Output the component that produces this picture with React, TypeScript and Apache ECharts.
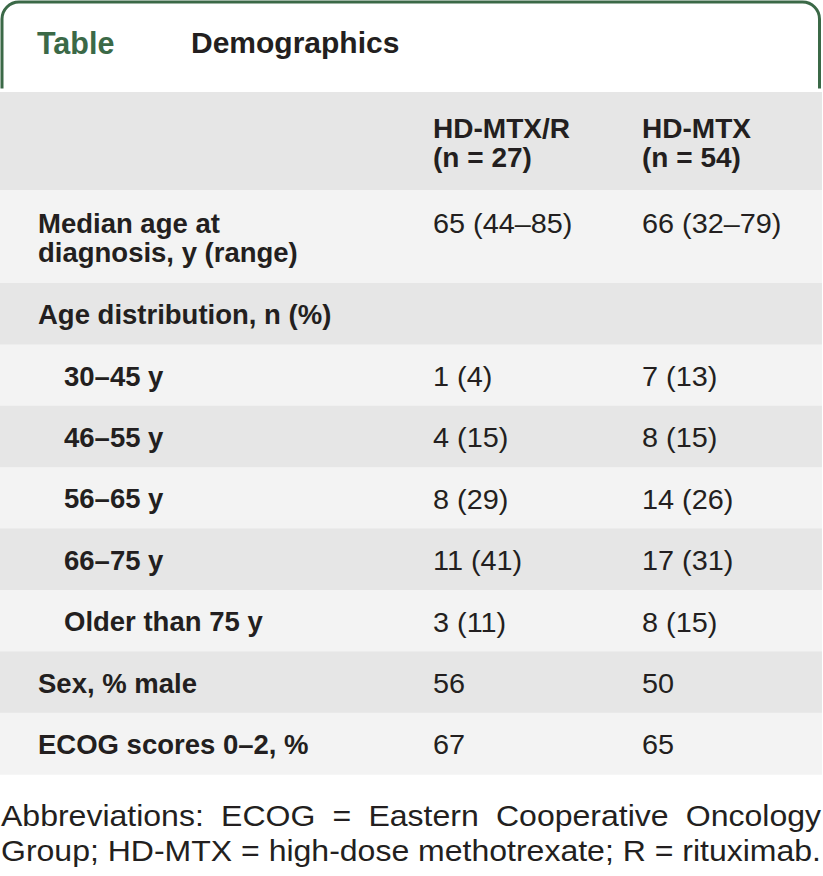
import React, { useEffect, useRef } from "react";
import * as echarts from "echarts";

const titleLabel = "Table";
const titleText = "Demographics";
const columnHeads = [
  ["HD-MTX/R", "(n = 27)"],
  ["HD-MTX", "(n = 54)"],
];
const rowLabels = [
  ["Median age at", "diagnosis, y (range)"],
  ["Age distribution, n (%)"],
  ["30–45 y"],
  ["46–55 y"],
  ["56–65 y"],
  ["66–75 y"],
  ["Older than 75 y"],
  ["Sex, % male"],
  ["ECOG scores 0–2, %"],
];
const rowIndent = [0, 0, 1, 1, 1, 1, 1, 0, 0];
const valuesHdmtxR = ["65 (44–85)", "", "1 (4)", "4 (15)", "8 (29)", "11 (41)", "3 (11)", "56", "67"];
const valuesHdmtx = ["66 (32–79)", "", "7 (13)", "8 (15)", "14 (26)", "17 (31)", "8 (15)", "50", "65"];
const footnoteLines = [
  "Abbreviations: ECOG = Eastern Cooperative Oncology",
  "Group; HD-MTX = high-dose methotrexate; R = rituximab.",
];

const GREEN = "#3b6947";
const TEXT = "#231f20";
const DARK_ROW = "#e6e6e6";
const LIGHT_ROW = "#f3f3f3";
const FONT = '"Liberation Sans", Arial, sans-serif';

function measure(text: string, font: string): number {
  const c = document.createElement("canvas");
  const ctx = c.getContext("2d")!;
  ctx.font = font;
  return ctx.measureText(text).width;
}

export default function App() {
  const ref = useRef<HTMLDivElement>(null);
  useEffect(() => {
    document.body.style.margin = "0";
    const chart = echarts.init(ref.current!, null, { renderer: "svg" });
    const els: any[] = [];
    const W = 822;
    const labelFont = `bold 27.5px ${FONT}`;
    const valueFont = `28px ${FONT}`;
    const valueScale = 1.03;

    // frame
    els.push({
      type: "rect", z: 1,
      shape: { x: 2, y: 2, width: 817.5, height: 120, r: [17, 17, 0, 0] },
      style: { fill: "#fff", stroke: GREEN, lineWidth: 3 },
    });
    els.push({ type: "rect", z: 2, shape: { x: -2, y: 88.5, width: 830, height: 40 }, style: { fill: "#fff" } });

    // title
    els.push({ type: "text", z: 5, x: 37, y: 42.5, style: { text: titleLabel, fill: GREEN, font: `bold 30.5px ${FONT}`, verticalAlign: "middle" } });
    els.push({ type: "text", z: 5, x: 191, y: 42.5, style: { text: titleText, fill: TEXT, font: `bold 30px ${FONT}`, verticalAlign: "middle" } });

    // header band
    const headTop = 92;
    const headBottom = 190;
    els.push({ type: "rect", z: 3, shape: { x: 0, y: headTop, width: W, height: headBottom - headTop }, style: { fill: DARK_ROW } });
    const colX = [433, 642];
    columnHeads.forEach((lines, ci) => {
      lines.forEach((t, li) => {
        els.push({ type: "text", z: 5, x: colX[ci], y: 128.3 + li * 29, scaleX: 1.02, style: { text: t, fill: TEXT, font: `bold 27.5px ${FONT}`, verticalAlign: "middle" } });
      });
    });

    // rows
    const rowTops: number[] = [];
    const rowHeights: number[] = [];
    let y = headBottom;
    rowLabels.forEach((lines) => {
      const h = lines.length > 1 ? 93 : 61.4;
      rowTops.push(y);
      rowHeights.push(h);
      y += h;
    });
    rowLabels.forEach((lines, ri) => {
      const top = rowTops[ri];
      const h = rowHeights[ri];
      els.push({ type: "rect", z: 3, shape: { x: 0, y: top, width: W, height: h + 0.5 }, style: { fill: ri % 2 === 0 ? LIGHT_ROW : DARK_ROW } });
      const labelX = rowIndent[ri] ? 64 : 38;
      if (lines.length > 1) {
        lines.forEach((t, li) => {
          els.push({ type: "text", z: 5, x: labelX, y: top + 33.3 + li * 29, style: { text: t, fill: TEXT, font: labelFont, verticalAlign: "middle" } });
        });
        [valuesHdmtxR[ri], valuesHdmtx[ri]].forEach((v, ci) => {
          els.push({ type: "text", z: 5, x: colX[ci], y: top + 33, scaleX: valueScale, style: { text: v, fill: TEXT, font: valueFont, verticalAlign: "middle" } });
        });
      } else {
        const mid = top + h / 2 + 1;
        els.push({ type: "text", z: 5, x: labelX, y: mid, style: { text: lines[0], fill: TEXT, font: labelFont, verticalAlign: "middle" } });
        [valuesHdmtxR[ri], valuesHdmtx[ri]].forEach((v, ci) => {
          if (v) els.push({ type: "text", z: 5, x: colX[ci], y: mid, scaleX: valueScale, style: { text: v, fill: TEXT, font: valueFont, verticalAlign: "middle" } });
        });
      }
    });

    // footnote, justified; glyphs widened so the last line fills the width with normal spaces
    const fnFont = `30px ${FONT}`;
    const fnMids = [816.3, 851.3];
    const left = 1;
    const right = 821;
    const natural = measure(footnoteLines[1], fnFont);
    const fnScale = Math.min(1.12, Math.max(0.9, (right - left) / natural));
    footnoteLines.forEach((line, li) => {
      const words = line.split(" ");
      const widths = words.map((w) => measure(w, fnFont) * fnScale);
      const total = widths.reduce((a, b) => a + b, 0);
      const gap = (right - left - total) / (words.length - 1);
      let x = left;
      words.forEach((w, wi) => {
        els.push({ type: "text", z: 5, x, y: fnMids[li], scaleX: fnScale, style: { text: w, fill: TEXT, font: fnFont, verticalAlign: "middle" } });
        x += widths[wi] + gap;
      });
    });

    chart.setOption({ animation: false, graphic: { elements: els } });
    return () => chart.dispose();
  }, []);
  return <div ref={ref} style={{ width: 823, height: 876 }} />;
}
